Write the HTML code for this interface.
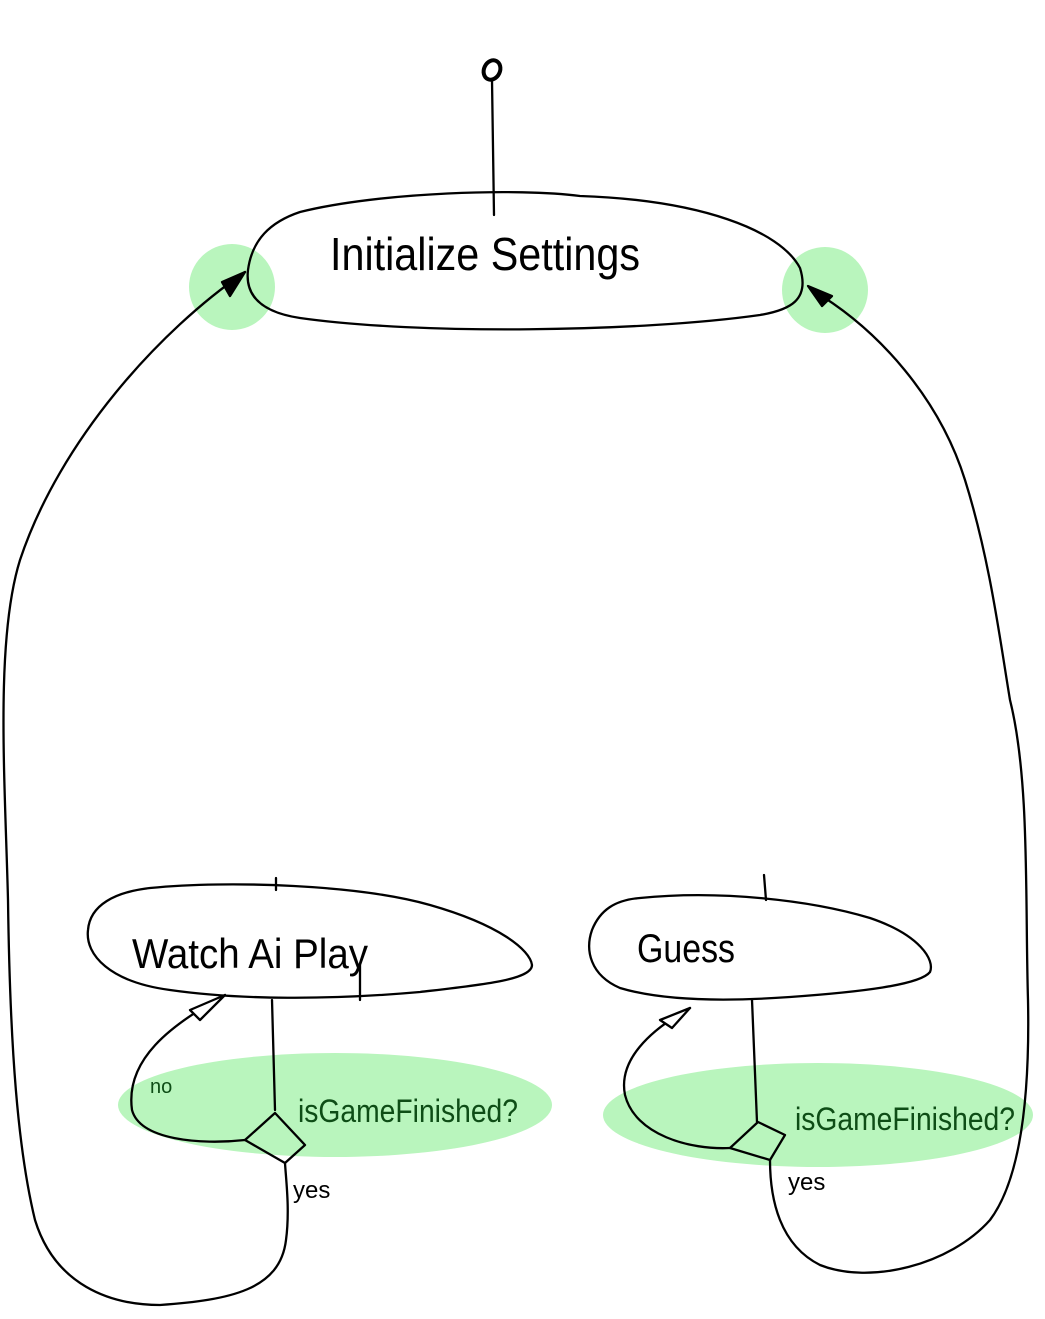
<!DOCTYPE html>
<html><head><meta charset="utf-8"><style>
html,body{margin:0;padding:0;background:#fff;}
svg{display:block;}
text{font-family:"Liberation Sans",sans-serif;}
</style></head><body>
<svg width="1045" height="1319" viewBox="0 0 1045 1319" xmlns="http://www.w3.org/2000/svg">
<g fill="none" stroke="#000" stroke-width="2.3" stroke-linecap="round" stroke-linejoin="round">
<ellipse cx="492" cy="70" rx="8" ry="10" transform="rotate(25 492 70)" stroke-width="4"/>
<path d="M492 80 L494 215"/>
<path d="M300 212 C380 192 520 188 580 196 C700 200 780 230 800 268 C810 300 790 310 760 315 C640 332 420 335 300 318 C260 312 245 295 248 270 C252 240 270 222 300 212 Z"/>
<path d="M245 272 C160 330 60 440 20 560 C-5 640 5 780 8 900 C10 1050 18 1150 35 1220 C55 1285 110 1305 160 1305 C230 1300 280 1290 286 1240 C290 1210 286 1180 285 1163"/>
<path d="M245 272 L222 282 L230 296 Z" fill="#000"/>
<path d="M812 290 C880 330 940 400 965 480 C990 560 1000 640 1010 700 C1030 780 1025 900 1028 1000 C1030 1100 1020 1180 990 1220 C950 1265 870 1285 820 1265 C780 1245 770 1200 770 1160"/>
<path d="M808 286 L832 296 L822 306 Z" fill="#000"/>
<path d="M150 888 C230 880 360 885 430 905 C500 925 530 950 532 965 C532 980 480 985 420 992 C330 1000 240 1000 170 990 C110 982 85 955 88 930 C90 905 115 892 150 888 Z"/>
<path d="M276 878 L276 890 M360 965 L360 1000"/>
<path d="M272 1000 L275 1110"/>
<path d="M275 1113 L305 1145 L285 1163 L245 1140 Z"/>
<path d="M245 1140 C200 1145 140 1140 132 1110 C125 1060 170 1025 225 995"/>
<path d="M225 995 L190 1010 L200 1020 Z" fill="#fff"/>
<path d="M640 898 C720 890 810 900 870 918 C920 935 935 960 930 972 C920 985 860 992 790 997 C720 1002 660 1000 620 988 C590 975 585 950 592 930 C600 910 615 900 640 898 Z"/>
<path d="M764 875 L766 900"/>
<path d="M752 1000 L757 1122"/>
<path d="M758 1122 L785 1135 L770 1160 L730 1148 Z"/>
<path d="M730 1148 C690 1150 635 1135 625 1095 C618 1060 650 1030 690 1008"/>
<path d="M690 1008 L660 1020 L672 1028 Z" fill="#fff"/>
</g>
<g fill="#b9f5bd" style="mix-blend-mode:multiply">
<circle cx="232" cy="287" r="43"/>
<circle cx="825" cy="290" r="43"/>
<ellipse cx="335" cy="1105" rx="217" ry="52"/>
<ellipse cx="818" cy="1115" rx="215" ry="52"/>
</g>
<g fill="#000">
<text x="330" y="270" font-size="46" textLength="310" lengthAdjust="spacingAndGlyphs">Initialize Settings</text>
<text x="132" y="968" font-size="42" textLength="236" lengthAdjust="spacingAndGlyphs">Watch Ai Play</text>
<text x="637" y="962" font-size="40" textLength="98" lengthAdjust="spacingAndGlyphs">Guess</text>
<text x="293" y="1198" font-size="24">yes</text>
<text x="788" y="1190" font-size="24">yes</text>
</g>
<g fill="#0e4d16">
<text x="150" y="1093" font-size="20">no</text>
<text x="298" y="1122" font-size="32" textLength="220" lengthAdjust="spacingAndGlyphs">isGameFinished?</text>
<text x="795" y="1130" font-size="32" textLength="220" lengthAdjust="spacingAndGlyphs">isGameFinished?</text>
</g>
</svg>
</body></html>
